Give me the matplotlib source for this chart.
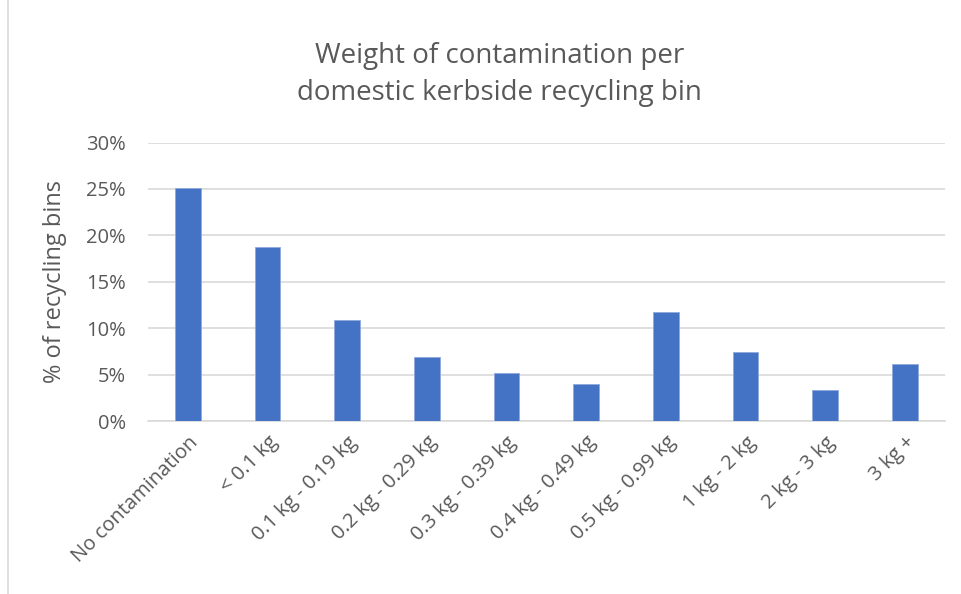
import matplotlib.pyplot as plt
from matplotlib.patches import Rectangle
from matplotlib.ticker import FuncFormatter

categories = ["No contamination", "< 0.1 kg", "0.1 kg - 0.19 kg", "0.2 kg - 0.29 kg",
              "0.3 kg - 0.39 kg", "0.4 kg - 0.49 kg", "0.5 kg - 0.99 kg",
              "1 kg - 2 kg", "2 kg - 3 kg", "3 kg +"]
share = [25.1, 18.8, 10.9, 6.9, 5.2, 3.95, 11.8, 7.4, 3.4, 6.2]
yticks = [0, 5, 10, 15, 20, 25, 30]

TXT = "#595959"
plt.rcParams['font.family'] = ['Open Sans', 'DejaVu Sans']

fig = plt.figure(figsize=(9.61, 5.94), dpi=100)
ax = fig.add_axes([0.154, 0.291, 0.829, 0.469])

x = range(len(categories))
ax.bar(x, share, width=0.32, color="#4472c4", edgecolor="#8faadc", linewidth=0.6, zorder=3)

ax.set_ylim(0, 30)
ax.set_xlim(-0.5, len(categories) - 0.5)
ax.set_yticks(yticks)
ax.yaxis.set_major_formatter(FuncFormatter(lambda v, p: f"{v:.0f}%"))
ax.grid(axis="y", color="#d9d9d9", linewidth=1.2, zorder=0)
for s in ["top", "right", "left"]:
    ax.spines[s].set_visible(False)
ax.spines["bottom"].set_color("#d9d9d9")
ax.spines["bottom"].set_linewidth(1.2)
ax.tick_params(length=0, colors=TXT, labelsize=14.5)
ax.tick_params(axis="y", pad=16)
ax.tick_params(axis="x", pad=8)

ax.set_xticks(list(x))
ax.set_xticklabels(categories, rotation=45, ha="right", rotation_mode="anchor")

ax.set_ylabel("% of recycling bins", color=TXT, fontsize=17, labelpad=14)

fig.suptitle("Weight of contamination per\ndomestic kerbside recycling bin",
             x=0.52, y=0.93, color=TXT, fontsize=20, linespacing=1.45)

fig.patches.append(Rectangle((0.008, -0.01), 1.1, 1.1, transform=fig.transFigure,
                             fill=False, edgecolor="#d9d9d9", linewidth=1.2))

fig.savefig("out.png", dpi=100)
